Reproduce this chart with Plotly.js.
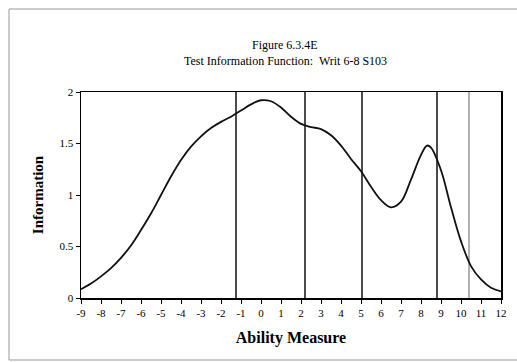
<!DOCTYPE html>
<html>
<head>
<meta charset="utf-8">
<script src="https://cdn.plot.ly/plotly-3.0.1.min.js"></script>
<style>
html,body{margin:0;padding:0;background:#fff;}
#chart{width:517px;height:362px;}
</style>
</head>
<body>
<div id="chart"></div>
<script>
var ability = [-9,-8.5,-8,-7.5,-7,-6.5,-6,-5.5,-5,-4.5,-4,-3.5,-3,-2.5,-2,-1.5,-1,-0.5,0,0.5,1,1.5,2,2.5,3,3.5,4,4.5,5,5.5,6,6.5,7,7.5,8,8.3,8.5,9,9.5,10,10.5,11,11.5,12];
var information = [0.085,0.14,0.21,0.29,0.39,0.51,0.66,0.82,1.0,1.18,1.34,1.47,1.57,1.65,1.71,1.76,1.82,1.88,1.92,1.91,1.85,1.76,1.69,1.66,1.64,1.58,1.48,1.35,1.23,1.08,0.95,0.88,0.935,1.15,1.39,1.48,1.46,1.24,0.88,0.55,0.31,0.18,0.10,0.065];
var cutScores = [-1.25, 2.2, 5.05, 8.8, 10.4];
var cutColors = ['#111','#111','#111','#111','#888'];
var xTicks = [-9,-8,-7,-6,-5,-4,-3,-2,-1,0,1,2,3,4,5,6,7,8,9,10,11,12];
var yTicks = [0,0.5,1,1.5,2];
var titleLines = ['Figure 6.3.4E', 'Test Information Function:  Writ 6-8 S103'];

var traces = [];
cutScores.forEach(function(c, i){
  traces.push({x:[c,c], y:[0,2], mode:'lines', line:{color:cutColors[i], width: i===4?1.3:1.5}, hoverinfo:'skip', showlegend:false});
});
traces.push({x:ability, y:information, mode:'lines', line:{color:'#111', width:1.8, shape:'spline', smoothing:1}, showlegend:false});

var serif = '"Liberation Serif", "Times New Roman", serif';
var layout = {
  width:517, height:362,
  margin:{l:81, r:16, t:92, b:64},
  paper_bgcolor:'#fff', plot_bgcolor:'#fff',
  font:{family:serif, color:'#000'},
  showlegend:false,
  xaxis:{range:[-9,12], tickvals:xTicks, ticktext:xTicks.map(String), showgrid:false, zeroline:false,
    showline:true, linecolor:'#000', linewidth:1.5, mirror:true, ticks:'outside', ticklen:4, tickcolor:'#000',
    tickfont:{family:serif, size:11, color:'#000'},
    title:{text:'<b>Ability Measure</b>', font:{family:serif, size:16, color:'#000'}, standoff:14}},
  yaxis:{range:[0,2], tickvals:yTicks, ticktext:yTicks.map(String), showgrid:false, zeroline:false,
    showline:true, linecolor:'#000', linewidth:1.5, mirror:true, ticks:'outside', ticklen:4, tickcolor:'#000',
    tickfont:{family:serif, size:11, color:'#000'},
    title:{text:'<b>Information</b>', font:{family:serif, size:15, color:'#000'}, standoff:12}},
  annotations:[
    {text:titleLines[0], xref:'paper', yref:'paper', x:(285-81)/420, y:(298-45)/206, yanchor:'middle', showarrow:false, font:{family:serif, size:12, color:'#000'}},
    {text:titleLines[1], xref:'paper', yref:'paper', x:(285-81)/420, y:(298-61)/206, yanchor:'middle', showarrow:false, font:{family:serif, size:12, color:'#000'}}
  ],
  shapes:[
    {type:'rect', xref:'paper', yref:'paper', x0:(9-81)/420, x1:(530-81)/420, y0:(298-360)/206, y1:(298-9)/206, line:{color:'#999', width:1}, fillcolor:'rgba(0,0,0,0)'}
  ]
};
Plotly.newPlot('chart', traces, layout, {displayModeBar:false, staticPlot:true});
</script>
</body>
</html>
